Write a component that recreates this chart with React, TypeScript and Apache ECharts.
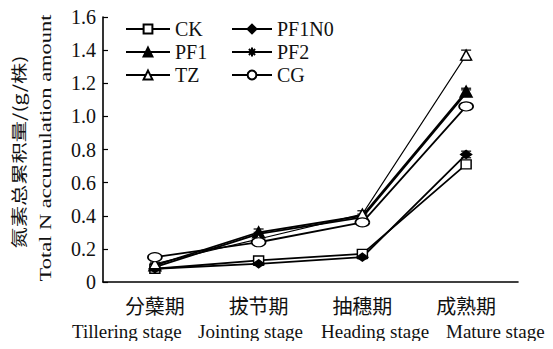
import React, { useEffect, useRef } from "react";
import * as echarts from "echarts";

const stagesCn = ["分蘖期", "拔节期", "抽穗期", "成熟期"];
const stagesEn = ["Tillering stage", "Jointing stage", "Heading stage", "Mature stage"];
const yTicks = [0, 0.2, 0.4, 0.6, 0.8, 1.0, 1.2, 1.4, 1.6];

const CK = [0.08, 0.13, 0.17, 0.71];
const PF1N0 = [0.08, 0.11, 0.15, 0.77];
const PF1 = [0.10, 0.30, 0.40, 1.15];
const PF2 = [0.09, 0.29, 0.39, 1.14];
const TZ = [0.11, 0.26, 0.41, 1.37];
const CG = [0.15, 0.24, 0.36, 1.06];

const errCK = [0.01, 0.01, 0.01, 0.02];
const errPF1N0 = [0.01, 0.01, 0.01, 0.02];
const errPF1 = [0.01, 0.02, 0.01, 0.02];
const errPF2 = [0.01, 0.01, 0.01, 0.02];
const errTZ = [0.01, 0.01, 0.02, 0.03];
const errCG = [0.01, 0.01, 0.01, 0.02];

const STAR = "path://M0,5L10,5M1.5,1.5L8.5,8.5M8.5,1.5L1.5,8.5M5,0L5,10";

export default function App() {
  const ref = useRef<HTMLDivElement>(null);
  useEffect(() => {
    if (!ref.current) return;
    const chart = echarts.init(ref.current, null, { renderer: "svg" });
    const serif = "serif";
    const mk = (name: string, data: number[], symbol: string, size: any, filled: boolean, lw: number) => ({
      name,
      type: "line",
      data,
      symbol,
      symbolSize: size,
      showSymbol: true,
      lineStyle: { color: "#000", width: lw },
      itemStyle: { color: filled ? "#000" : "#fff", borderColor: "#000", borderWidth: 1.4 },
      z: 3,
    });
    const errSeries = (data: number[], err: number[]) => ({
      type: "custom",
      silent: true,
      z: 2,
      data: data.map((v, i) => [i, v - err[i], v + err[i]]),
      renderItem: (params: any, api: any) => {
        const lo = api.coord([api.value(0), api.value(1)]);
        const hi = api.coord([api.value(0), api.value(2)]);
        const w = 5;
        return {
          type: "group",
          children: [
            { type: "line", shape: { x1: lo[0], y1: lo[1], x2: hi[0], y2: hi[1] }, style: { stroke: "#000", lineWidth: 1.2 } },
            { type: "line", shape: { x1: lo[0] - w, y1: lo[1], x2: lo[0] + w, y2: lo[1] }, style: { stroke: "#000", lineWidth: 1.2 } },
            { type: "line", shape: { x1: hi[0] - w, y1: hi[1], x2: hi[0] + w, y2: hi[1] }, style: { stroke: "#000", lineWidth: 1.2 } },
          ],
        };
      },
    });
    const legendText = { fontFamily: serif, fontSize: 20, color: "#111" };
    const legendCommon = {
      orient: "vertical",
      itemHeight: 11,
      itemGap: 3,
      textStyle: legendText,
      selectedMode: false,
    };
    const enX = [72, 198, 321, 446];
    chart.setOption({
      animation: false,
      backgroundColor: "#fff",
      textStyle: { fontFamily: serif, fontSize: 20 },
      grid: { left: 103, right: 35, top: 17, bottom: 67 },
      legend: [
        { ...legendCommon, left: 120, top: 14, itemWidth: 44, data: ["CK", "PF1", "TZ"] },
        { ...legendCommon, left: 226, top: 14, itemWidth: 40, data: ["PF1N0", "PF2", "CG"] },
      ],
      xAxis: {
        type: "category",
        data: stagesCn,
        boundaryGap: true,
        axisLine: { lineStyle: { color: "#000", width: 1.6 } },
        axisTick: { inside: true, length: 5, lineStyle: { color: "#000", width: 1.2 } },
        axisLabel: {
          interval: 0,
          margin: 13,
          fontFamily: "Noto Sans CJK SC",
          fontSize: 20,
          color: "#111",
        },
      },
      yAxis: {
        type: "value",
        min: 0,
        max: 1.6,
        interval: 0.2,
        axisLine: { show: true, lineStyle: { color: "#000", width: 1.6 } },
        axisTick: { show: true, inside: true, length: 5, lineStyle: { color: "#000", width: 1.2 } },
        splitLine: { show: false },
        axisLabel: {
          margin: 7,
          fontFamily: "Times New Roman",
          fontSize: 20,
          color: "#111",
          formatter: (v: number) => {
            const t = yTicks.find((x) => Math.abs(x - v) < 1e-6);
            return t === 0 ? "0" : (t ?? v).toFixed(1);
          },
        },
      },
      graphic: [
        {
          type: "text",
          x: 18,
          y: 152,
          rotation: Math.PI / 2,
          scaleX: 1.33,
          style: { text: "氮素总累积量/(g/株)", font: "16px 'Noto Sans CJK SC'", fill: "#111", align: "center", verticalAlign: "middle" },
        },
        {
          type: "text",
          x: 45,
          y: 148,
          rotation: Math.PI / 2,
          scaleX: 1.32,
          style: { text: "Total N accumulation amount", font: "17px 'Liberation Serif'", fill: "#111", align: "center", verticalAlign: "middle" },
        },
        ...stagesEn.map((t, i) => ({
          type: "text",
          x: enX[i],
          y: 331,
          style: { text: t, font: "19px 'Liberation Serif'", fill: "#111", align: "left", verticalAlign: "middle" },
        })),
      ],
      series: [
        errSeries(CK, errCK),
        errSeries(PF1N0, errPF1N0),
        errSeries(PF1, errPF1),
        errSeries(PF2, errPF2),
        errSeries(TZ, errTZ),
        errSeries(CG, errCG),
        mk("CK", CK, "rect", [10, 9], false, 1.8),
        mk("PF1N0", PF1N0, "diamond", [11, 8], true, 1.8),
        mk("PF1", PF1, "triangle", [12, 11], true, 1.8),
        mk("PF2", PF2, STAR, [7, 7], false, 1.8),
        mk("TZ", TZ, "triangle", [11, 10], false, 1.1),
        mk("CG", CG, "circle", [14, 9], false, 1.8),
      ],
    });
    return () => chart.dispose();
  }, []);
  return <div ref={ref} style={{ width: 553, height: 349, margin: -8 }} />;
}
